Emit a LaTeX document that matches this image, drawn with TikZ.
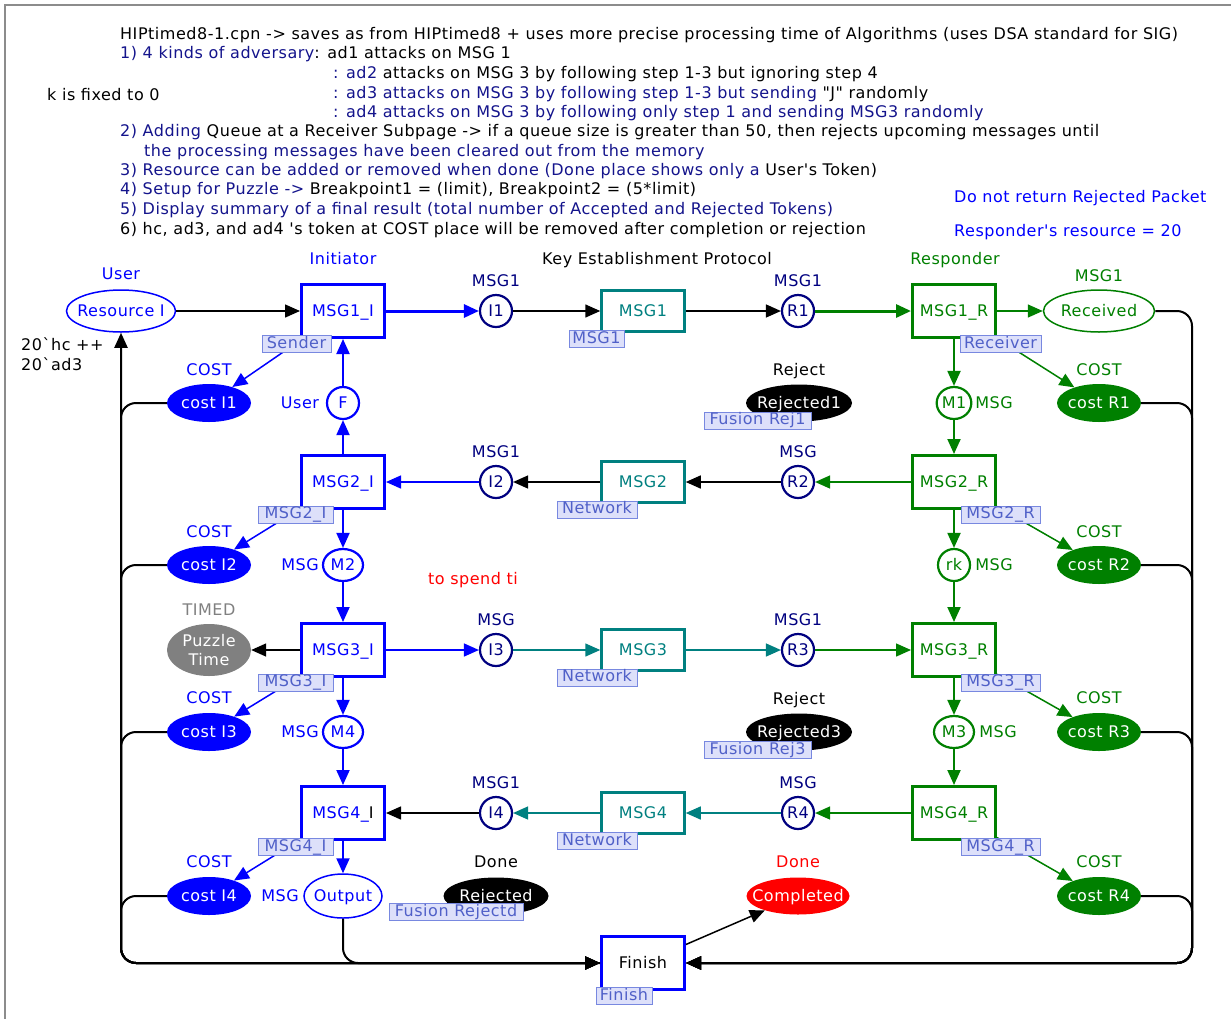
\documentclass[tikz,border=0pt]{standalone}
\usepackage{fontspec}
\newfontfamily\cpnfont{DejaVu Sans}[LetterSpace=3.3]
\usetikzlibrary{arrows.meta,shapes.geometric}

\definecolor{cpnblue}{RGB}{0,0,255}
\definecolor{cpnnavy}{RGB}{0,0,128}
\definecolor{notenavy}{RGB}{20,20,140}
\definecolor{cpnteal}{RGB}{0,128,128}
\definecolor{cpngreen}{RGB}{0,128,0}
\definecolor{cpngray}{RGB}{128,128,128}
\definecolor{cpnred}{RGB}{255,0,0}
\definecolor{tagfill}{RGB}{221,224,250}
\definecolor{tagline}{RGB}{120,136,224}
\definecolor{tagtext}{RGB}{80,96,200}
\definecolor{framegray}{RGB}{140,140,140}

% text inside an ellipse does not widen it: the ellipse keeps its set size
\newcommand{\intext}[1]{\makebox[0pt]{#1}}

\tikzset{
  cpntext/.style={font=\cpnfont\fontsize{16}{19}\selectfont, inner sep=0pt,
    text height=11.5pt, text depth=0pt},
  trans/.style={draw, line width=3pt, minimum width=83pt, minimum height=53pt},
  itrans/.style={trans, draw=cpnblue, text=cpnblue},
  rtrans/.style={trans, draw=cpngreen, text=cpngreen},
  ntrans/.style={draw=cpnteal, text=cpnteal, line width=2.5pt,
    minimum width=83pt, minimum height=41pt},
  port/.style={circle, draw=cpnnavy, text=cpnnavy, line width=2.2pt, minimum size=32pt},
  iplace/.style={ellipse, draw=cpnblue, text=cpnblue, line width=2.2pt,
    minimum width=32pt, minimum height=32pt},
  rplace/.style={ellipse, draw=cpngreen, text=cpngreen, line width=2.2pt,
    minimum width=32pt, minimum height=32pt},
  costi/.style={ellipse, fill=cpnblue, text=white, minimum width=84pt, minimum height=38pt},
  costr/.style={ellipse, fill=cpngreen, text=white, minimum width=84pt, minimum height=38pt},
  rejplace/.style={ellipse, fill=black, text=white, minimum width=106pt, minimum height=37pt},
  tag/.style={draw=tagline, fill=tagfill, text=tagtext, line width=1pt,
    minimum height=17pt, text height=11.5pt, text depth=3pt},
  arc/.style={line width=1.5pt, -{Triangle[length=15pt,width=13pt]}},
  fatarc/.style={arc, line width=3pt},
  midarc/.style={arc, line width=2pt},
  bus/.style={arc, line width=2pt, rounded corners=15pt},
  note/.style={anchor=west},
}

\begin{document}
\begin{tikzpicture}[x=1pt, y=-1pt, every node/.style={cpntext}]
\useasboundingbox (0,0) rectangle (1231,1018);
\fill[white] (0,0) rectangle (1231,1018);
\draw[framegray, line width=1.5pt] (5,1030) -- (5,5) -- (1240,5);

% ---------- notes ----------
\node[note] (n01) at (120,34) {HIPtimed8-1.cpn -> saves as from HIPtimed8 + uses more precise processing time of Algorithms (uses DSA standard for SIG)};
\node[note] (n02) at (120,53) {{\color{notenavy}1) 4 kinds of adversary}: ad1 attacks on MSG 1};
\node[note] (n03) at (333,73) {{\color{notenavy}: ad2} attacks on MSG 3 by following step 1-3 but ignoring step 4};
\node[note] (n04) at (333,93) {{\color{notenavy}: ad3 attacks on MSG 3 by following step 1-3 but sending} "J" randomly};
\node[note, text=notenavy] (n05) at (333,112) {: ad4 attacks on MSG 3 by following only step 1 and sending MSG3 randomly};
\node[note] (n06) at (120,131) {{\color{notenavy}2) Adding} Queue at a Receiver Subpage -> if a queue size is greater than 50, then rejects upcoming messages until};
\node[note, text=notenavy] (n07) at (144,151) {the processing messages have been cleared out from the memory};
\node[note] (n08) at (120,170) {{\color{notenavy}3) Resource can be added or removed when done (Done place shows only a} User's Token)};
\node[note] (n09) at (120,189) {{\color{notenavy}4) Setup for Puzzle ->} Breakpoint1 = (limit), Breakpoint2 = (5*limit)};
\node[note, text=notenavy] (n10) at (120,209) {5) Display summary of a final result (total number of Accepted and Rejected Tokens)};
\node[note] (n11) at (120,229) {6) hc, ad3, and ad4 's token at COST place will be removed after completion or rejection};
\node[note] (kfix) at (47,95) {k is fixed to 0};
\node[note, text=cpnblue] (noret) at (954,197) {Do not return Rejected Packet};
\node[note, text=cpnblue] (rres) at (954,231) {Responder's resource = 20};

% ---------- page headings ----------
\node[text=cpnblue] (hinit) at (343,259) {Initiator};
\node (hkey) at (657,259) {Key Establishment Protocol};
\node[text=cpngreen] (hresp) at (955,259) {Responder};

% ---------- transitions ----------
\node[itrans] (t1i) at (343,311) {MSG1\_I};
\node[itrans] (t2i) at (343,482) {MSG2\_I};
\node[itrans] (t3i) at (343,650) {MSG3\_I};
\node[itrans] (t4i) at (343,813) {MSG4\_{\color{black}I}};
\node[rtrans] (t1r) at (954,311) {MSG1\_R};
\node[rtrans] (t2r) at (954,482) {MSG2\_R};
\node[rtrans] (t3r) at (954,650) {MSG3\_R};
\node[rtrans] (t4r) at (954,813) {MSG4\_R};
\node[ntrans] (n1) at (643,311) {MSG1};
\node[ntrans] (n2) at (643,482) {MSG2};
\node[ntrans] (n3) at (643,650) {MSG3};
\node[ntrans] (n4) at (643,813) {MSG4};
\node[trans, draw=cpnblue] (fin) at (643,963) {Finish};

% ---------- port places ----------
\node[port] (I1) at (496,311) {I1};
\node[port] (I2) at (496,482) {I2};
\node[port] (I3) at (496,650) {I3};
\node[port] (I4) at (496,813) {I4};
\node[port] (R1) at (798,311) {R1};
\node[port] (R2) at (798,482) {R2};
\node[port] (R3) at (798,650) {R3};
\node[port] (R4) at (798,813) {R4};
\node[text=cpnnavy] (lI1) at (496,281) {MSG1};
\node[text=cpnnavy] (lI2) at (496,452) {MSG1};
\node[text=cpnnavy] (lI3) at (496,620) {MSG};
\node[text=cpnnavy] (lI4) at (496,783) {MSG1};
\node[text=cpnnavy] (lR1) at (798,281) {MSG1};
\node[text=cpnnavy] (lR2) at (798,452) {MSG};
\node[text=cpnnavy] (lR3) at (798,620) {MSG1};
\node[text=cpnnavy] (lR4) at (798,783) {MSG};

% ---------- internal places ----------
\node[iplace] (F) at (343,403) {F};
\node[iplace, minimum width=40pt] (M2) at (343,565) {\intext{M2}};
\node[iplace, minimum width=40pt] (M4) at (343,732) {\intext{M4}};
\node[rplace] (M1) at (954,403) {M1};
\node[rplace] (rk) at (954,565) {rk};
\node[rplace, minimum width=40pt] (M3) at (954,732) {\intext{M3}};
\node[text=cpnblue] (lF) at (300,403) {User};
\node[text=cpnblue] (lM2) at (300,565) {MSG};
\node[text=cpnblue] (lM4) at (300,732) {MSG};
\node[text=cpngreen] (lM1) at (994,403) {MSG};
\node[text=cpngreen] (lrk) at (994,565) {MSG};
\node[text=cpngreen] (lM3) at (998,732) {MSG};

% ---------- resource, received, output ----------
\node[ellipse, draw=cpnblue, text=cpnblue, line width=1.5pt, minimum width=109pt, minimum height=42pt] (resI) at (121,311) {\intext{Resource I}};
\node[text=cpnblue] (lresI) at (121,274) {User};
\node[anchor=west] (mk1) at (21,345) {20`hc ++};
\node[anchor=west] (mk2) at (21,365) {20`ad3};
\node[ellipse, draw=cpngreen, text=cpngreen, line width=1.5pt, minimum width=111pt, minimum height=42pt] (recv) at (1099,311) {\intext{Received}};
\node[text=cpngreen] (lrecv) at (1099,276) {MSG1};
\node[ellipse, draw=cpnblue, text=cpnblue, line width=1.5pt, minimum width=78pt, minimum height=44pt] (out) at (343,896) {\intext{Output}};
\node[text=cpnblue] (lout) at (280,896) {MSG};

% ---------- cost places ----------
\node[costi] (cI1) at (209,403) {\intext{cost I1}};
\node[costi] (cI2) at (209,565) {\intext{cost I2}};
\node[costi] (cI3) at (209,732) {\intext{cost I3}};
\node[costi] (cI4) at (209,896) {\intext{cost I4}};
\node[costr] (cR1) at (1099,403) {\intext{cost R1}};
\node[costr] (cR2) at (1099,565) {\intext{cost R2}};
\node[costr] (cR3) at (1099,732) {\intext{cost R3}};
\node[costr] (cR4) at (1099,896) {\intext{cost R4}};
\foreach \yy in {370,532,698,862} {
  \node[text=cpnblue] at (209,\yy) {COST};
  \node[text=cpngreen] at (1099,\yy) {COST};
}

% ---------- puzzle, rejections, completion ----------
\node[ellipse, fill=cpngray, minimum width=84pt, minimum height=52pt] (puz) at (209,650) {};
\node[text=white] (puz1) at (209,641) {Puzzle};
\node[text=white] (puz2) at (209,660) {Time};
\node[text=cpngray] (lpuz) at (209,610) {TIMED};
\node[rejplace] (rej1) at (799,403) {\intext{Rejected1}};
\node[rejplace] (rej3) at (799,732) {\intext{Rejected3}};
\node[rejplace, minimum width=105pt] (rejd) at (496,896) {\intext{Rejected}};
\node (lrej1) at (799,370) {Reject};
\node (lrej3) at (799,699) {Reject};
\node (lrejd) at (496,862) {Done};
\node[ellipse, fill=cpnred, text=white, minimum width=103pt, minimum height=37pt] (compl) at (798,896) {\intext{Completed}};
\node[text=cpnred] (lcompl) at (798,862) {Done};
\node[text=cpnred] (spend) at (473,579) {to spend ti};

% ---------- arcs: initiator ----------
\draw[arc] (resI) -- (t1i);
\draw[fatarc, cpnblue] (t1i) -- (I1);
\draw[midarc, cpnblue] (t2i) -- (F);
\draw[midarc, cpnblue] (F) -- (t1i);
\draw[arc, cpnblue] (I2) -- (t2i);
\draw[midarc, cpnblue] (t2i) -- (M2);
\draw[midarc, cpnblue] (M2) -- (t3i);
\draw[arc] (t3i) -- (puz);
\draw[arc, cpnblue] (t3i) -- (I3);
\draw[midarc, cpnblue] (t3i) -- (M4);
\draw[midarc, cpnblue] (M4) -- (t4i);
\draw[arc] (I4) -- (t4i);
\draw[midarc, cpnblue] (t4i) -- (out);
\draw[arc, cpnblue] (t1i) -- (cI1);
\draw[arc, cpnblue] (t2i) -- (cI2);
\draw[arc, cpnblue] (t3i) -- (cI3);
\draw[arc, cpnblue] (t4i) -- (cI4);

% ---------- arcs: network ----------
\draw[arc] (I1) -- (n1);
\draw[arc] (n1) -- (R1);
\draw[arc] (R2) -- (n2);
\draw[arc] (n2) -- (I2);
\draw[arc, cpnteal] (I3) -- (n3);
\draw[arc, cpnteal] (n3) -- (R3);
\draw[arc, cpnteal] (R4) -- (n4);
\draw[arc, cpnteal] (n4) -- (I4);

% ---------- arcs: responder ----------
\draw[fatarc, cpngreen] (R1) -- (t1r);
\draw[arc, cpngreen] (t1r) -- (recv);
\draw[midarc, cpngreen] (t1r) -- (M1);
\draw[midarc, cpngreen] (M1) -- (t2r);
\draw[arc, cpngreen] (t2r) -- (R2);
\draw[midarc, cpngreen] (t2r) -- (rk);
\draw[midarc, cpngreen] (rk) -- (t3r);
\draw[arc, cpngreen] (R3) -- (t3r);
\draw[midarc, cpngreen] (t3r) -- (M3);
\draw[midarc, cpngreen] (M3) -- (t4r);
\draw[arc, cpngreen] (t4r) -- (R4);
\draw[arc, cpngreen] (t1r) -- (cR1);
\draw[arc, cpngreen] (t2r) -- (cR2);
\draw[arc, cpngreen] (t3r) -- (cR3);
\draw[arc, cpngreen] (t4r) -- (cR4);

% ---------- arcs: finishing ----------
\draw[arc] (fin) -- (compl);
\draw[bus] (fin.west) -- (121,963) -- (resI.south);
\foreach \c in {cI1,cI2,cI3,cI4} {
  \draw[bus] (\c.west) -- (121,0 |- \c.west) -- (121,963) -- (fin.west);
}
\draw[bus] (out.south) -- (343,963) -- (fin.west);
\draw[bus] (recv.east) -- (1192,311) -- (1192,963) -- (fin.east);
\foreach \c in {cR1,cR2,cR3,cR4} {
  \draw[bus] (\c.east) -- (1192,0 |- \c.east) -- (1192,963) -- (fin.east);
}

% ---------- page and fusion tags ----------
\node[tag, minimum width=69pt] (gSender) at (296.5,344) {Sender};
\node[tag, minimum width=55pt] (gMSG1) at (596.5,339) {MSG1};
\node[tag, minimum width=81pt] (gRecv) at (1000.5,344) {Receiver};
\node[tag, minimum width=107pt] (gRej1) at (757.5,420.5) {Fusion Rej1};
\node[tag, minimum width=75pt] (gM2I) at (295.5,514.5) {MSG2\_I};
\node[tag, minimum width=80pt] (gNet2) at (597,509.5) {Network};
\node[tag, minimum width=79pt] (gM2R) at (1000.5,514.5) {MSG2\_R};
\node[tag, minimum width=75pt] (gM3I) at (295.5,682.5) {MSG3\_I};
\node[tag, minimum width=80pt] (gNet3) at (597,677.5) {Network};
\node[tag, minimum width=79pt] (gM3R) at (1000.5,682.5) {MSG3\_R};
\node[tag, minimum width=107pt] (gRej3) at (757.5,750) {Fusion Rej3};
\node[tag, minimum width=75pt] (gM4I) at (295.5,847) {MSG4\_I};
\node[tag, minimum width=80pt] (gNet4) at (597,841) {Network};
\node[tag, minimum width=79pt] (gM4R) at (1000.5,847) {MSG4\_R};
\node[tag, minimum width=134pt] (gRejd) at (456,912) {Fusion Rejectd};
\node[tag, minimum width=56pt] (gFin) at (624,996) {Finish};
\end{tikzpicture}
\end{document}
